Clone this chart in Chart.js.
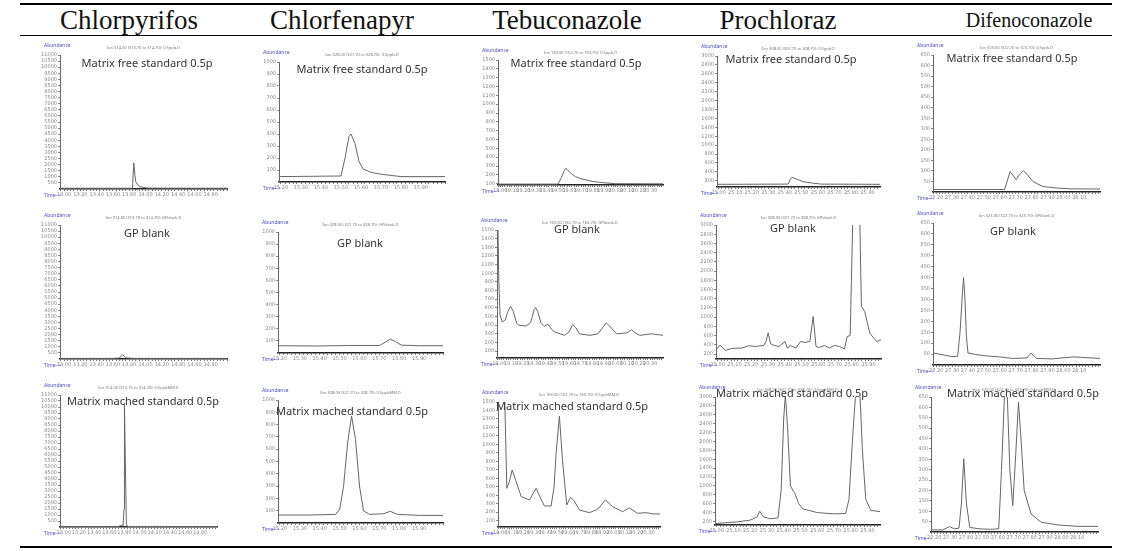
<!DOCTYPE html>
<html><head><meta charset="utf-8">
<script src="https://cdn.jsdelivr.net/npm/chart.js"></script>
<style>
body{margin:0;width:1127px;height:554px;background:#fff;position:relative;overflow:hidden;font-family:"Noto Sans",sans-serif}
.hdr{position:absolute;top:20px;transform:translate(-50%,-50%);font-family:"Liberation Serif",serif;font-size:27px;color:#111;white-space:nowrap}
.ttl{position:absolute;transform:translate(-50%,-50%);font-size:11px;color:#333;white-space:nowrap}
.tiny{position:absolute;font-size:5px;line-height:6px;white-space:nowrap}
.rule{position:absolute;left:20px;width:1092px;background:#000}
canvas{position:absolute}
</style></head>
<body>
<div class="rule" style="top:3px;height:2px"></div>
<div class="rule" style="top:35px;height:1px"></div>
<div class="rule" style="top:546px;height:2px"></div>
<script>
// ---------- categories / labels ----------
const compounds = ['Chlorpyrifos','Chlorfenapyr','Tebuconazole','Prochloraz','Difenoconazole'];
const sampleTitles = ['Matrix free standard 0.5p','GP blank','Matrix mached standard 0.5p'];
const ionLabels = ['Ion 314.00 (313.70 to 314.70): ','Ion 328.00 (327.70 to 328.70): ','Ion 163.00 (162.70 to 163.70): ','Ion 308.00 (307.70 to 308.70): ','Ion 323.00 (322.70 to 323.70): '];
const fileLabels = ['0.5ppb.D','GPblank.D','0.5ppbMM.D'];

// ---------- tick labels ----------
const chlorpyrifosTimeTicks = [13.0,13.2,13.4,13.6,13.8,14.0,14.2,14.4,14.6,14.8];
const chlorpyrifosAbundTicks = [500,1000,1500,2000,2500,3000,3500,4000,4500,5000,5500,6000,6500,7000,7500,8000,8500,9000,9500,10000,10500,11000];
const chlorfenapyrTimeTicks = [15.2,15.3,15.4,15.5,15.6,15.7,15.8,15.9];
const chlorfenapyrAbundTicks = [100,200,300,400,500,600,700,800,900,1000];
const tebuconazoleTimeTicks = [19.0,19.1,19.2,19.3,19.4,19.5,19.6,19.7,19.8,19.9,20.0,20.1,20.2,20.3];
const tebuconazoleAbundTicks = [100,200,300,400,500,600,700,800,900,1000,1100,1200,1300,1400,1500];
const prochlorazTimeTicks = [25.0,25.1,25.2,25.3,25.4,25.5,25.6,25.7,25.8,25.9];
const prochlorazAbundTicks = [200,400,600,800,1000,1200,1400,1600,1800,2000,2200,2400,2600,2800,3000];
const difenoconazoleTimeTicks = [27.2,27.3,27.4,27.5,27.6,27.7,27.8,27.9,28.0,28.1];
const difenoconazoleAbundTicks = [50,100,150,200,250,300,350,400,450,500,550,600,650];

// ---------- series ----------
const chlorpyrifosFreeTime   = [12.95,13.84,13.855,13.87,13.88,13.90,13.93,13.97,14.05,15.0];
const chlorpyrifosFreeAbund  = [60,60,2150,1100,600,350,200,120,70,60];
const chlorpyrifosBlankTime  = [12.95,13.60,13.68,13.72,13.76,13.85,15.0];
const chlorpyrifosBlankAbund = [50,50,80,350,90,50,50];
const chlorpyrifosMatchedTime  = [12.95,13.72,13.76,13.78,13.795,13.80,13.81,13.825,13.84,15.02];
const chlorpyrifosMatchedAbund = [30,30,150,60,1500,10300,6000,300,40,30];

const chlorfenapyrFreeTime   = [15.19,15.50,15.52,15.54,15.55,15.57,15.59,15.61,15.65,15.70,15.75,15.80,16.02];
const chlorfenapyrFreeAbund  = [45,50,200,380,400,320,170,110,80,65,55,45,45];
const chlorfenapyrBlankTime  = [15.19,15.40,15.55,15.70,15.73,15.755,15.78,15.81,15.90,16.02];
const chlorfenapyrBlankAbund = [60,58,62,62,90,115,95,65,60,60];
const chlorfenapyrMatchedTime  = [15.19,15.35,15.48,15.50,15.52,15.54,15.56,15.58,15.60,15.62,15.65,15.72,15.755,15.79,15.90,16.02];
const chlorfenapyrMatchedAbund = [65,65,70,110,300,650,870,680,300,100,70,75,95,70,62,62];

const tebuconazoleFreeTime   = [18.98,19.50,19.53,19.555,19.57,19.60,19.65,19.70,19.80,19.90,20.0,20.41];
const tebuconazoleFreeAbund  = [95,95,170,250,275,230,180,155,125,110,100,98];
const tebuconazoleBlankTime  = [18.988,18.996,19.006,19.025,19.05,19.075,19.096,19.12,19.15,19.17,19.23,19.27,19.30,19.313,19.33,19.36,19.385,19.42,19.45,19.48,19.56,19.60,19.632,19.66,19.69,19.78,19.85,19.90,19.922,19.95,20.01,20.10,20.14,20.17,20.21,20.31,20.41];
const tebuconazoleBlankAbund = [1550,900,520,436,460,560,618,560,420,398,390,430,580,603,560,420,386,410,350,320,282,320,406,370,300,282,300,390,425,390,300,310,348,310,282,300,282];
const tebuconazoleMatchedTime  = [18.98,19.03,19.04,19.058,19.08,19.105,19.14,19.185,19.258,19.29,19.317,19.35,19.39,19.449,19.475,19.493,19.522,19.55,19.587,19.62,19.649,19.699,19.787,19.86,19.928,19.992,20.08,20.139,20.212,20.286,20.35,20.41];
const tebuconazoleMatchedAbund = [1700,1650,1500,482,560,698,560,383,344,420,482,380,273,273,500,895,1335,800,285,376,340,226,194,234,344,265,206,250,187,194,179,179];

const prochlorazFreeTime   = [24.99,25.42,25.435,25.445,25.47,25.51,25.56,25.62,25.975];
const prochlorazFreeAbund  = [120,125,250,276,240,180,150,125,120];
const prochlorazBlankTime  = [24.98,24.994,25.014,25.045,25.084,25.145,25.185,25.225,25.275,25.289,25.301,25.316,25.336,25.366,25.402,25.416,25.436,25.466,25.496,25.522,25.55,25.57,25.587,25.607,25.637,25.667,25.697,25.727,25.757,25.773,25.791,25.807,25.827,25.848,25.858,25.878,25.908,25.948,25.975];
const prochlorazBlankAbund = [364,308,395,278,321,330,380,364,386,473,660,423,386,364,473,330,380,330,473,450,473,1014,364,340,386,330,386,364,308,581,600,3200,3200,3200,1230,1122,654,473,509];
const prochlorazMatchedTime  = [24.98,25.05,25.125,25.20,25.24,25.257,25.28,25.32,25.366,25.385,25.40,25.41,25.425,25.44,25.468,25.49,25.516,25.60,25.70,25.77,25.79,25.81,25.83,25.855,25.87,25.89,25.92,25.975];
const prochlorazMatchedAbund = [150,170,190,230,300,430,300,260,280,900,2500,3050,2200,1000,820,600,480,400,370,380,700,2000,3100,3100,1800,700,450,420];

const difenoconazoleFreeTime   = [27.18,27.63,27.665,27.703,27.725,27.749,27.775,27.808,27.87,27.955,28.05,28.23];
const difenoconazoleFreeAbund  = [12,12,97,58,85,102,80,50,26,19,15,14];
const difenoconazoleBlankTime  = [27.18,27.22,27.30,27.335,27.35,27.365,27.372,27.38,27.39,27.40,27.45,27.51,27.60,27.68,27.77,27.797,27.83,27.93,28.06,28.23];
const difenoconazoleBlankAbund = [55,50,38,40,150,330,400,320,130,55,48,42,37,30,32,55,30,28,37,30];
const difenoconazoleMatchedTime  = [27.18,27.253,27.296,27.328,27.356,27.371,27.386,27.403,27.424,27.488,27.553,27.606,27.623,27.642,27.66,27.676,27.694,27.713,27.73,27.745,27.766,27.809,27.873,27.98,28.108,28.25];
const difenoconazoleMatchedAbund = [10,10,26,15,19,135,353,135,22,15,13,15,296,658,650,296,127,377,626,457,200,87,47,34,27,27];

// ---------- scale settings ----------
const timeTicks = [chlorpyrifosTimeTicks,chlorfenapyrTimeTicks,tebuconazoleTimeTicks,prochlorazTimeTicks,difenoconazoleTimeTicks];
const abundTicks = [chlorpyrifosAbundTicks,chlorfenapyrAbundTicks,tebuconazoleAbundTicks,prochlorazAbundTicks,difenoconazoleAbundTicks];
const timeRange = [[12.95,15.0],[15.19,16.02],[18.98,20.41],[24.99,25.975],[27.18,28.23]];
const abundMin = [[0,0,0],[0,0,0],[85,20,25],[60,92,120],[0,0,0]];
const seriesTime = [
  [chlorpyrifosFreeTime,chlorpyrifosBlankTime,chlorpyrifosMatchedTime],
  [chlorfenapyrFreeTime,chlorfenapyrBlankTime,chlorfenapyrMatchedTime],
  [tebuconazoleFreeTime,tebuconazoleBlankTime,tebuconazoleMatchedTime],
  [prochlorazFreeTime,prochlorazBlankTime,prochlorazMatchedTime],
  [difenoconazoleFreeTime,difenoconazoleBlankTime,difenoconazoleMatchedTime]];
const seriesAbund = [
  [chlorpyrifosFreeAbund,chlorpyrifosBlankAbund,chlorpyrifosMatchedAbund],
  [chlorfenapyrFreeAbund,chlorfenapyrBlankAbund,chlorfenapyrMatchedAbund],
  [tebuconazoleFreeAbund,tebuconazoleBlankAbund,tebuconazoleMatchedAbund],
  [prochlorazFreeAbund,prochlorazBlankAbund,prochlorazMatchedAbund],
  [difenoconazoleFreeAbund,difenoconazoleBlankAbund,difenoconazoleMatchedAbund]];

// ---------- layout ----------
const headerX = [129,342,567,778,1029];
const headerSize = [27,27,27,27,20];
const axisLeft   = [[60,279,498,717,933],[60,278,497,716,933],[60,278,498,715,931]];
const axisRight  = [[227,445,663,880,1100],[227,443,663,881,1100],[217,443,660,880,1098]];
const axisTop    = [[55,62,60,56,55],[225,232,230,225,223],[395,400,402,397,397]];
const axisBottom = [[189,182,185,187,192],[359,353,358,359,365],[527,523,527,525,532]];
const titlePos = [[[147,62],[362,68],[576,62],[791,58],[1012,57]],[[147,232],[360,242],[577,228],[793,227],[1013,230]],[[143,400],[352,410],[572,405],[792,392],[1023,392]]];

function addDiv(cls, text, left, top, extra) {
  const d = document.createElement('div');
  d.className = cls; d.textContent = text;
  d.style.left = left + 'px'; d.style.top = top + 'px';
  if (extra) Object.assign(d.style, extra);
  document.body.appendChild(d);
  return d;
}

compounds.forEach((c,i)=> addDiv('hdr', c, headerX[i], 20, { fontSize: headerSize[i] + 'px' }));

function minorTicks(majors, min, max, n) {
  const step = (majors[1]-majors[0]) / n;
  const out = [];
  const k0 = Math.ceil((min - majors[0]) / step - 1e-6);
  const k1 = Math.floor((max - majors[0]) / step + 1e-6);
  for (let k = k0; k <= k1; k++) out.push(+(majors[0] + k*step).toFixed(4));
  return out;
}

for (let r = 0; r < 3; r++) {
  for (let c = 0; c < 5; c++) {
    const L = axisLeft[r][c], R = axisRight[r][c], T = axisTop[r][c], B = axisBottom[r][c];
    const left = L - 32, top = T - 22, W = R - L + 36, H = B - T + 34;
    const cv = document.createElement('canvas');
    cv.width = W; cv.height = H;
    cv.style.left = left + 'px'; cv.style.top = top + 'px';
    cv.style.width = W + 'px'; cv.style.height = H + 'px';
    document.body.appendChild(cv);

    const majors = timeTicks[c];
    const yt = abundTicks[c];
    const xr = timeRange[c];
    const xmax = (r === 2 && c === 0) ? 15.02 : xr[1];
    const pts = seriesTime[c][r].map((t,i)=>({x:t, y:seriesAbund[c][r][i]}));
    const mt = minorTicks(majors, xr[0], xmax, 5);

    new Chart(cv, {
      type: 'line',
      data: { datasets: [{ data: pts, borderColor: '#666', borderWidth: 1, pointRadius: 0, tension: 0, fill: false }] },
      options: {
        responsive: false, animation: false, devicePixelRatio: 1,
        layout: { padding: { left: 12, top: 22, right: 4, bottom: 0 } },
        plugins: { legend: { display: false }, tooltip: { enabled: false } },
        scales: {
          x: {
            type: 'linear', min: xr[0], max: xmax,
            afterBuildTicks: s => { s.ticks = mt.map(v=>({value:v})); },
            afterFit: s => { s.height = 12; },
            ticks: { autoSkip: false, maxRotation: 0, minRotation: 0, padding: 1, color: '#888',
              font: { size: 5, family: 'DejaVu Sans' },
              callback: v => majors.some(m => Math.abs(m - v) < 1e-6) ? v.toFixed(2) : '' },
            grid: { drawOnChartArea: false, drawTicks: true, tickLength: 2, color: '#777' },
            border: { display: true, color: '#222', width: 1.6 }
          },
          y: {
            type: 'linear', min: abundMin[c][r], max: yt[yt.length-1],
            afterBuildTicks: s => { s.ticks = yt.map(v=>({value:v})); },
            afterFit: s => { s.width = 20; },
            ticks: { autoSkip: false, padding: 1, color: '#888', font: { size: 5, family: 'DejaVu Sans' },
              callback: v => String(v) },
            grid: { drawOnChartArea: false, drawTicks: true, tickLength: 2, color: '#888' },
            border: { display: true, color: '#666', width: 1 }
          }
        }
      }
    });

    addDiv('tiny', 'Abundance', L - 16, T - 13, { color: '#4a4ac8' });
    addDiv('tiny', 'Time-->', L - 16, B + 3, { color: '#4a4ac8' });
    addDiv('tiny', ionLabels[c] + fileLabels[r], (L + R) / 2, T - 10, { color: '#777', transform: 'translateX(-50%)', fontSize: '4px' });
    const tp = titlePos[r][c];
    addDiv('ttl', sampleTitles[r], tp[0], tp[1]);
  }
}
</script>
</body></html>
